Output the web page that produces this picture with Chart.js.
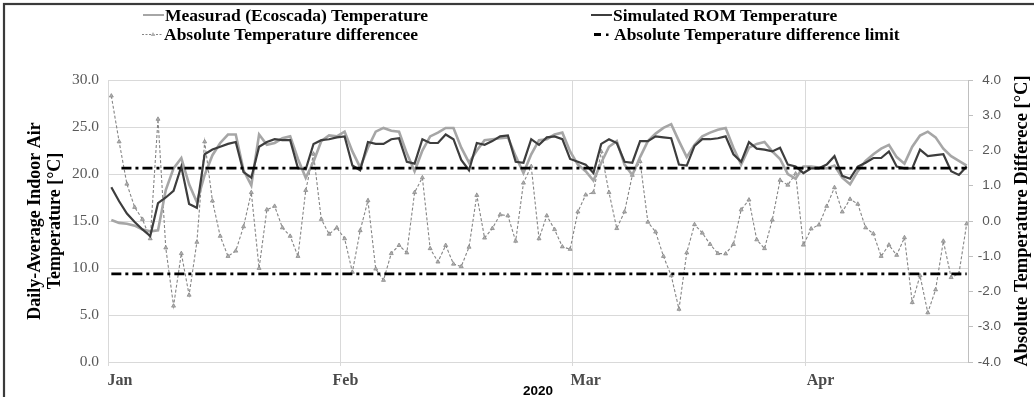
<!DOCTYPE html>
<html>
<head>
<meta charset="utf-8">
<script src="https://cdn.jsdelivr.net/npm/chart.js@4.4.1/dist/chart.umd.min.js"></script>
<style>
html,body{margin:0;padding:0;background:#fff;}
#wrap{position:relative;width:1034px;height:397px;overflow:hidden;}
#c{position:absolute;left:0;top:0;}
.lg{position:absolute;display:flex;align-items:center;white-space:nowrap;
    font-family:"Liberation Serif","Times New Roman",serif;font-weight:bold;font-size:17.5px;color:#000;line-height:20px;}
.lg canvas{display:block;margin-right:1px;}
</style>
</head>
<body>
<div id="wrap">
<canvas id="c" width="1034" height="397"></canvas>
</div>
<script>
// ---------------- data ----------------
const seriesNames = [
  'Measurad (Ecoscada) Temperature',
  'Simulated ROM Temperature',
  'Absolute Temperature differencee',
  'Absolute Temperature difference limit'
];
const monthLabels = ['Jan', 'Feb', 'Mar', 'Apr'];
const yearLabel = '2020';
const leftTitle = ['Daily-Average Indoor Air', 'Temperature [°C]'];
const rightTitle = 'Absolute Temperature Differece [°C]';
const leftTicks = [0, 5, 10, 15, 20, 25, 30];
const rightTicks = [-4, -3, -2, -1, 0, 1, 2, 3, 4];
const differenceLimit = 1.5;

// daily values, 1 Jan ... 20 Apr
const measured = [
  15.1,14.8,14.7,14.5,14.1,13.9,14.0,18.3,20.6,21.7,
  18.9,17.0,19.9,22.0,23.3,24.2,24.2,20.4,18.8,24.2,
  23.1,23.3,23.8,24.0,21.6,19.6,21.3,23.5,24.1,24.0,
  24.5,22.4,20.7,22.8,24.5,24.9,24.6,24.5,22.2,20.3,
  22.5,24.0,24.4,24.9,24.9,22.8,21.2,22.5,23.6,23.7,
  23.8,23.9,21.9,20.1,22.1,23.6,23.7,24.2,24.4,22.4,
  21.0,20.3,19.3,21.2,22.9,23.5,21.0,19.9,21.8,23.5,
  24.3,24.9,25.3,23.5,21.8,23.1,24.0,24.4,24.7,24.9,
  22.8,21.0,22.8,23.2,23.4,22.4,21.6,20.0,19.5,20.8,
  20.8,20.7,20.6,20.9,19.6,18.9,20.3,21.4,22.1,22.7,
  23.1,21.8,21.1,22.9,24.1,24.5,23.9,22.7,21.9,21.4,20.9
];
const simulated = [
  18.6,17.1,15.8,14.9,14.1,13.4,16.9,17.5,18.2,20.8,
  16.8,16.4,22.1,22.6,22.9,23.2,23.4,20.2,19.6,22.9,
  23.4,23.7,23.6,23.6,20.6,20.5,23.2,23.6,23.7,23.9,
  24.0,20.9,20.4,23.4,23.2,23.2,23.7,23.8,21.3,21.1,
  23.7,23.3,23.3,24.2,23.7,21.5,20.4,23.3,23.1,23.5,
  24.0,24.1,21.3,21.2,23.7,23.1,23.9,24.0,23.7,21.6,
  21.3,21.0,20.1,23.2,23.7,23.3,21.3,21.2,23.5,23.5,
  24.0,23.9,23.8,21.0,20.9,23.0,23.7,23.7,23.8,24.0,
  22.1,21.3,23.4,22.7,22.6,22.4,22.8,21.0,20.8,20.1,
  20.6,20.6,21.0,21.9,19.8,19.5,20.8,21.2,21.7,21.7,
  22.4,20.8,20.6,20.6,22.6,21.9,22.0,22.1,20.3,19.9,20.8
];
const difference = [
  3.55,2.25,1.05,0.39,0.05,-0.5,2.89,-0.76,-2.41,-0.92,
  -2.1,-0.6,2.25,0.57,-0.43,-1.0,-0.85,-0.16,0.81,-1.34,
  0.32,0.42,-0.19,-0.43,-1.0,0.87,1.9,0.05,-0.37,-0.19,
  -0.5,-1.45,-0.27,0.58,-1.36,-1.68,-0.92,-0.69,-0.9,0.81,
  1.23,-0.78,-1.16,-0.69,-1.22,-1.29,-0.74,0.73,-0.48,-0.21,
  0.18,0.15,-0.57,1.08,1.55,-0.5,0.15,-0.24,-0.73,-0.8,
  0.26,0.74,0.81,1.97,0.81,-0.21,0.26,1.3,1.69,-0.03,
  -0.31,-1.0,-1.55,-2.5,-0.9,-0.1,-0.34,-0.66,-0.92,-0.93,
  -0.66,0.32,0.6,-0.53,-0.78,0.03,1.16,1.02,1.34,-0.68,
  -0.22,-0.11,0.42,0.95,0.26,0.62,0.48,-0.19,-0.36,-1.0,
  -0.68,-0.97,-0.47,-2.31,-1.55,-2.6,-1.95,-0.57,-1.6,-1.5,-0.08
];

// ---------------- layout / style ----------------
const X_MIN = -0.43, X_MAX = 110.17;
const gridAt = [-0.43, 29.49, 59.32, 89.29];   // vertical grid lines (day index)
const labelAt = [1.1, 30.1, 61.0, 91.2];       // month label centres (day index)
const PLOT = {left:108, right:968, top:80, bottom:362};
const W = 1034, H = 397;
const RIGHT_LABEL_EDGE = 1001;

const xy = arr => arr.map((v, i) => ({x: i, y: v}));
const lastIdx = measured.length - 1;
const serif = '"Liberation Serif","Times New Roman",serif';
const sans = '"Liberation Sans",Arial,sans-serif';

const framePlugin = {
  id: 'frame',
  beforeDraw(chart) {
    const c = chart.ctx;
    c.save();
    c.fillStyle = '#fff';
    c.fillRect(0, 0, W, H);
    c.strokeStyle = '#3a3a3a';
    c.lineWidth = 2.2;
    c.strokeRect(4, 4, W + 20, H + 20);
    c.restore();
  },
  afterDraw(chart) {
    const c = chart.ctx, a = chart.chartArea;
    c.save();
    c.translate(1022, (a.top + a.bottom) / 2);
    c.rotate(-Math.PI / 2);
    c.font = 'bold 18.5px ' + serif;
    c.fillStyle = '#000';
    c.textAlign = 'center';
    c.textBaseline = 'middle';
    c.fillText(rightTitle, 0, 0);
    c.restore();
  }
};

const limitStyle = {
  yAxisID: 'y1', borderColor: '#000', borderWidth: 2.6,
  borderDash: [10, 4, 3, 4], pointRadius: 0, order: 1, fill: false
};

const chart = new Chart(document.getElementById('c'), {
  type: 'line',
  data: {
    datasets: [
      {label: seriesNames[0], data: xy(measured), yAxisID: 'y',
       borderColor: '#a6a6a6', borderWidth: 2.6, pointRadius: 0, order: 3, tension: 0},
      {label: seriesNames[1], data: xy(simulated), yAxisID: 'y',
       borderColor: '#3d3d3d', borderWidth: 2.2, pointRadius: 0, order: 2, tension: 0},
      {label: seriesNames[2], data: xy(difference), yAxisID: 'y1',
       borderColor: '#858585', borderWidth: 1.1, borderDash: [3, 2],
       pointStyle: 'triangle', pointRadius: 2.3, pointBackgroundColor: '#b0b0b0',
       pointBorderColor: '#8a8a8a', pointBorderWidth: 0.8, order: 4, tension: 0},
      Object.assign({label: seriesNames[3], data: [{x: 1.3, y: differenceLimit}, {x: lastIdx, y: differenceLimit}]}, limitStyle),
      Object.assign({label: '', data: [{x: 0, y: -differenceLimit}, {x: lastIdx, y: -differenceLimit}]}, limitStyle)
    ]
  },
  options: {
    responsive: false,
    animation: false,
    devicePixelRatio: 1,
    layout: {padding: {top: PLOT.top, left: 0, right: W - RIGHT_LABEL_EDGE, bottom: 0}},
    plugins: {legend: {display: false}, tooltip: {enabled: false}},
    scales: {
      x: {
        type: 'linear', position: 'bottom', min: X_MIN, max: X_MAX,
        afterBuildTicks(s) { s.ticks = gridAt.map(v => ({value: v})); },
        ticks: {display: false},
        grid: {color: '#d9d9d9', lineWidth: 1, drawTicks: true, tickLength: 4},
        border: {color: '#d9d9d9'},
        afterFit(s) { s.height = 4; }
      },
      x2: {
        type: 'linear', position: 'bottom', min: X_MIN, max: X_MAX,
        afterBuildTicks(s) { s.ticks = labelAt.map(v => ({value: v})); },
        ticks: {
          autoSkip: false, maxRotation: 0, padding: 5,
          callback(v, i) { return monthLabels[i]; },
          font: {family: serif, size: 16, weight: 'bold'}, color: '#4a4a4a'
        },
        grid: {display: false, drawTicks: false},
        border: {display: false},
        title: {display: true, text: yearLabel, font: {family: sans, size: 13.5, weight: 'bold', lineHeight: 1},
                color: '#000', padding: {top: 0, bottom: -1.5}},
        afterFit(s) { s.height = H - PLOT.bottom - 4; }
      },
      y: {
        position: 'left', min: 0, max: 30,
        afterBuildTicks(s) { s.ticks = leftTicks.map(v => ({value: v})); },
        ticks: {callback: v => v.toFixed(1), font: {family: serif, size: 15.5}, color: '#595959', padding: 9},
        grid: {color: '#d9d9d9', drawTicks: false},
        border: {display: false},
        title: {display: true, text: leftTitle, font: {family: serif, size: 18, weight: 'bold', lineHeight: 1.12},
                color: '#000', padding: {top: 25, bottom: 0}},
        afterFit(s) { s.width = PLOT.left; }
      },
      y1: {
        position: 'right', min: -4, max: 4,
        afterBuildTicks(s) { s.ticks = rightTicks.map(v => ({value: v})); },
        ticks: {callback: v => v.toFixed(1), font: {family: sans, size: 13.5}, color: '#595959',
                padding: 3, crossAlign: 'far'},
        grid: {drawOnChartArea: false, color: '#bfbfbf', tickLength: 5},
        border: {color: '#bfbfbf'},
        afterFit(s) { s.width = RIGHT_LABEL_EDGE - PLOT.right; }
      }
    }
  },
  plugins: [framePlugin]
});

// ---------------- HTML legend built from dataset labels ----------------
const legendPos = [
  {left: 143, top: 15}, {left: 591, top: 15},
  {left: 142, top: 34}, {left: 592, top: 34}
];
const samples = [
  c => { c.strokeStyle = '#a6a6a6'; c.lineWidth = 2; c.beginPath(); c.moveTo(0, 10); c.lineTo(21, 10); c.stroke(); },
  c => { c.strokeStyle = '#3d3d3d'; c.lineWidth = 2; c.beginPath(); c.moveTo(0, 10); c.lineTo(21, 10); c.stroke(); },
  c => { c.strokeStyle = '#858585'; c.lineWidth = 1; c.setLineDash([2, 1.5]); c.beginPath(); c.moveTo(0, 10.5); c.lineTo(21, 10.5); c.stroke();
         c.setLineDash([]); c.fillStyle = '#b0b0b0'; c.beginPath(); c.moveTo(11, 8); c.lineTo(13.3, 12); c.lineTo(8.7, 12); c.closePath(); c.fill(); },
  c => { c.fillStyle = '#000'; c.fillRect(2, 9, 7, 3); c.fillRect(14, 9.5, 2.5, 2.5); }
];
const wrap = document.getElementById('wrap');
chart.data.datasets.slice(0, 4).forEach((ds, i) => {
  const d = document.createElement('div');
  d.className = 'lg';
  d.style.left = legendPos[i].left + 'px';
  d.style.top = (legendPos[i].top - 10) + 'px';
  const cv = document.createElement('canvas');
  cv.width = 21; cv.height = 20;
  samples[i](cv.getContext('2d'));
  d.appendChild(cv);
  d.appendChild(document.createTextNode(ds.label));
  wrap.appendChild(d);
});
</script>
</body>
</html>
